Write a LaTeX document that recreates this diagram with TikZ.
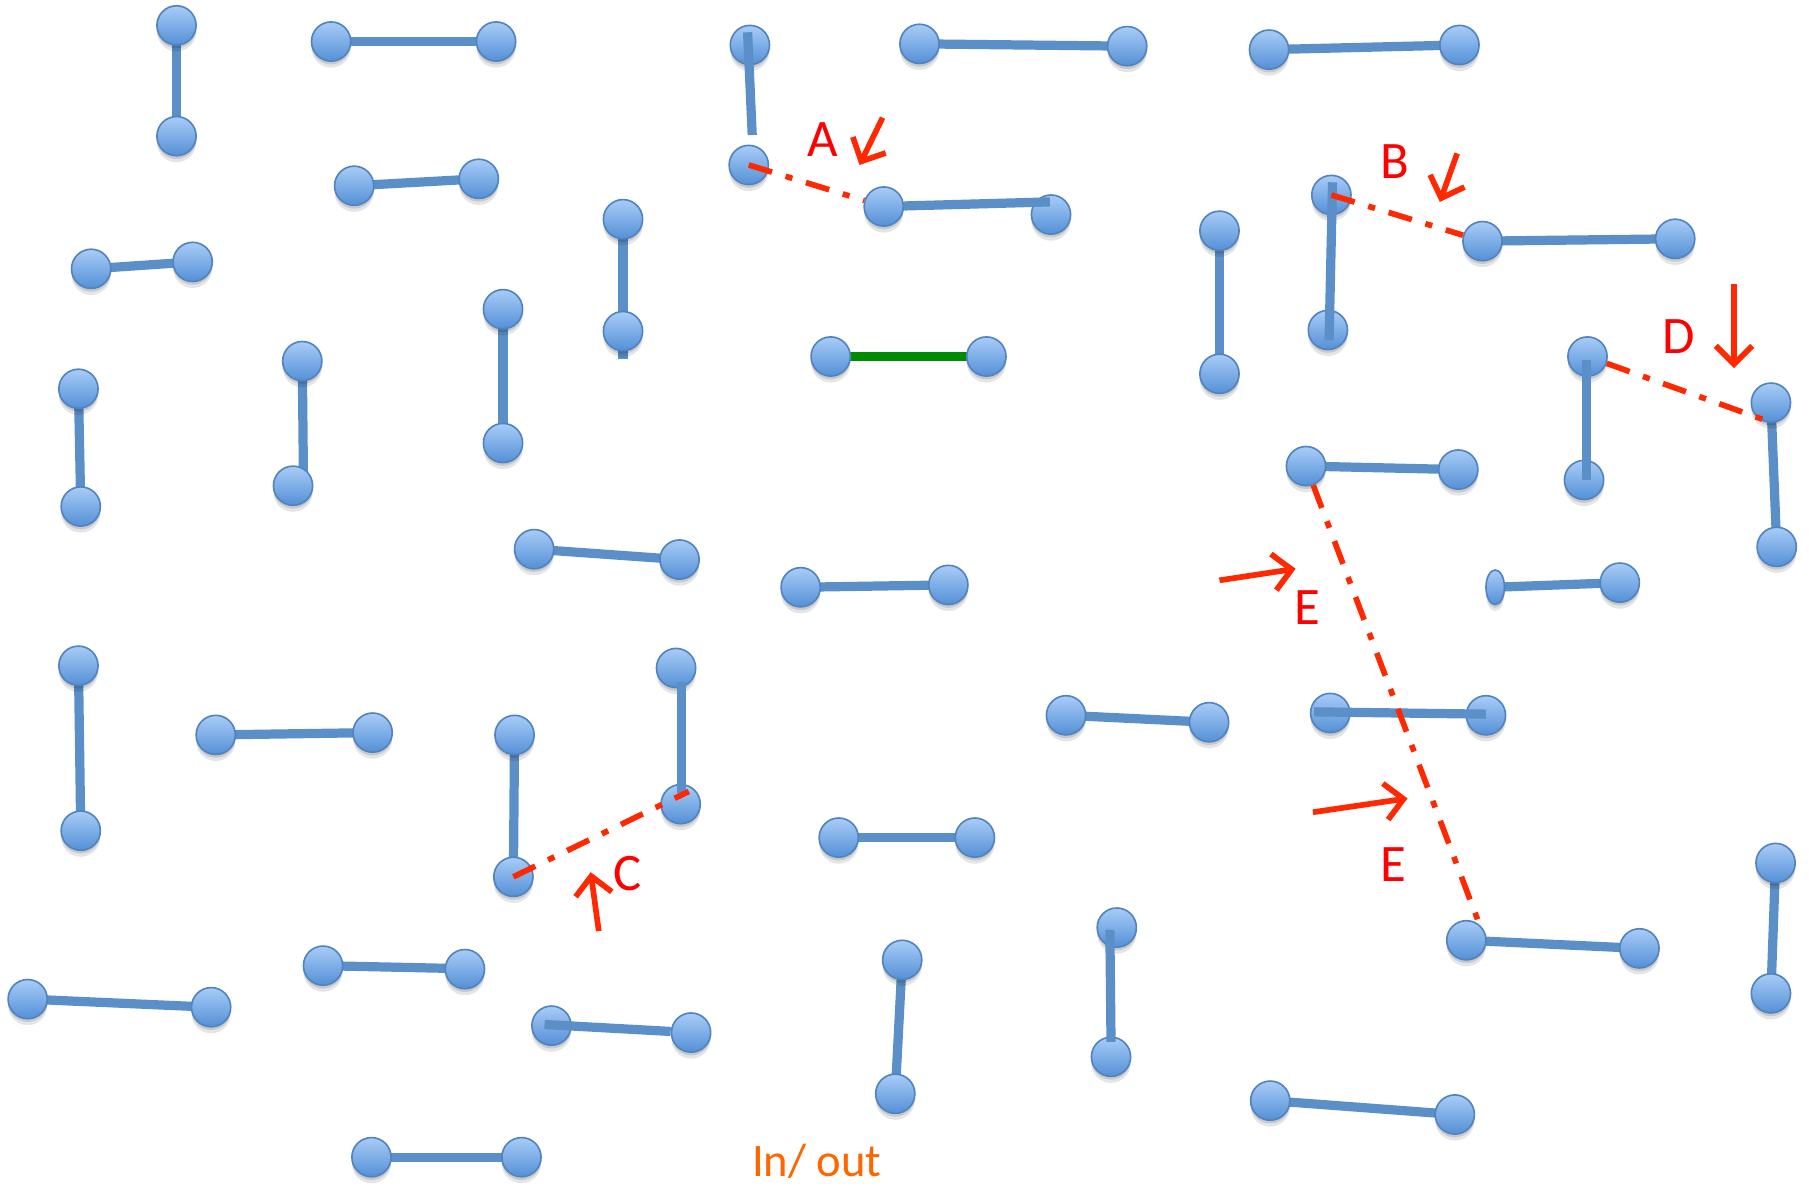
\documentclass[tikz,border=0pt]{standalone}
\usepackage{fontspec}
\setmainfont{Carlito}
\usetikzlibrary{arrows.meta,shapes.geometric}
\definecolor{ballTop}{RGB}{168,204,247}
\definecolor{ballBot}{RGB}{84,144,214}
\definecolor{ballEdge}{RGB}{80,131,192}
\definecolor{bondBlue}{RGB}{91,143,199}
\definecolor{bondGreen}{RGB}{0,140,0}
\definecolor{redLine}{RGB}{255,40,0}
\definecolor{inOut}{RGB}{255,102,0}
\pgfdeclarelayer{bg}
\pgfdeclarelayer{fg}
\pgfsetlayers{bg,main,fg}
\tikzset{
  ball/.style={circle, minimum size=0.68cm, inner sep=0pt, draw=ballEdge, line width=0.8pt,
    top color=ballTop, bottom color=ballBot,
    preaction={draw=none, fill=black, fill opacity=0.10, transform canvas={yshift=-3.2pt}},
    preaction={draw=none, fill=black, fill opacity=0.12, transform canvas={yshift=-1.6pt}}},
  flatball/.style={ball, ellipse, minimum width=0.32cm, minimum height=0.6cm},
  bond/.style={draw=bondBlue, line width=0.16cm},
  greenbond/.style={draw=bondGreen, line width=0.16cm},
  brk/.style={draw=redLine, line width=2.8pt, dash pattern=on 12pt off 7pt on 3.5pt off 7pt},
  pointer/.style={draw=redLine, line width=2.8pt, -{Straight Barb[length=9pt,width=18pt]}},
  lbl/.style={text=red, font=\fontsize{26}{30}\selectfont, inner sep=0pt},
}
\begin{document}
\begin{tikzpicture}[x=0.02cm, y=-0.02cm]
\begin{pgfonlayer}{bg}
\fill[white] (0,0) rectangle (1568,1029);
\end{pgfonlayer}
\useasboundingbox (0,0) rectangle (1568,1029);

% ---- balls ----
\node[ball] (p1a) at (153,22) {};   \node[ball] (p1b) at (153,118) {};
\node[ball] (p2a) at (287,36) {};   \node[ball] (p2b) at (430,36) {};
\node[ball] (p3a) at (650,39) {};
\node[ball] (aL)  at (649,143) {};
\node[ball] (p4a) at (797,38) {};   \node[ball] (p4b) at (977,40) {};
\node[ball] (p5a) at (1100,43) {};  \node[ball] (p5b) at (1265,39) {};
\node[ball] (p6a) at (307,161) {};  \node[ball] (p6b) at (415,155) {};
\node[ball] (p7a) at (79,233) {};   \node[ball] (p7b) at (167,227) {};
\node[ball] (p8a) at (540,190) {};  \node[ball] (p8b) at (540,287) {};
\node[ball] (aM)  at (766,179) {};  \node[ball] (aR) at (911,186) {};
\node[ball] (g1)  at (720,309) {};  \node[ball] (g2) at (855,309) {};
\node[ball] (p11a) at (1057,200) {}; \node[ball] (p11b) at (1057,324) {};
\node[ball] (bT) at (1154,169) {};  \node[ball] (bB) at (1151,286) {};
\node[ball] (bM) at (1285,209) {};  \node[ball] (bR) at (1452,207) {};
\node[ball] (dT) at (1376,309) {};  \node[ball] (dB) at (1373,416) {};
\node[ball] (dR1) at (1535,349) {}; \node[ball] (dR2) at (1540,474) {};
\node[ball] (p14a) at (68,337) {};  \node[ball] (p14b) at (70,439) {};
\node[ball] (p15a) at (262,313) {}; \node[ball] (p15b) at (254,421) {};
\node[ball] (p16a) at (436,268) {}; \node[ball] (p16b) at (436,384) {};
\node[ball] (eT1) at (1132,404) {}; \node[ball] (eT2) at (1264,407) {};
\node[ball] (p18a) at (463,476) {}; \node[ball] (p18b) at (589,485) {};
\node[ball] (p19a) at (694,509) {}; \node[ball] (p19b) at (822,507) {};
\node[flatball] (p20a) at (1296,509) {}; \node[ball] (p20b) at (1404,505) {};
\node[ball] (p21a) at (68,577) {};  \node[ball] (p21b) at (70,720) {};
\node[ball] (p22a) at (187,637) {}; \node[ball] (p22b) at (323,635) {};
\node[ball] (cL1) at (446,637) {};  \node[ball] (cL2) at (445,760) {};
\node[ball] (cR1) at (586,579) {};  \node[ball] (cR2) at (590,697) {};
\node[ball] (p24a) at (924,620) {}; \node[ball] (p24b) at (1048,626) {};
\node[ball] (eM1) at (1153,618) {}; \node[ball] (eM2) at (1288,620) {};
\node[ball] (p26a) at (727,726) {}; \node[ball] (p26b) at (845,726) {};
\node[ball] (p27a) at (1539,748) {}; \node[ball] (p27b) at (1535,861) {};
\node[ball] (p28a) at (24,866) {};  \node[ball] (p28b) at (183,873) {};
\node[ball] (p29a) at (280,837) {}; \node[ball] (p29b) at (403,840) {};
\node[ball] (p30a) at (478,889) {}; \node[ball] (p30b) at (599,895) {};
\node[ball] (p31a) at (782,832) {}; \node[ball] (p31b) at (776,948) {};
\node[ball] (p32a) at (968,804) {}; \node[ball] (p32b) at (963,916) {};
\node[ball] (eB1) at (1271,815) {}; \node[ball] (eB2) at (1421,822) {};
\node[ball] (p34a) at (1101,954) {}; \node[ball] (p34b) at (1261,966) {};
\node[ball] (p35a) at (322,1003) {}; \node[ball] (p35b) at (452,1003) {};

% ---- free line ends ----
\coordinate (p3s) at (648,28);   \coordinate (p3e) at (652,117);
\coordinate (p8e) at (540,311);
\coordinate (aE)  at (910,175);
\coordinate (bS)  at (1155,158); \coordinate (bE) at (1152,295);
\coordinate (dS)  at (1375,312); \coordinate (dE) at (1375,416);
\coordinate (dX)  at (1535,366);
\coordinate (p15e) at (263,412);
\coordinate (eX)  at (1283,803);
\coordinate (cS)  at (591,591);  \coordinate (cE) at (591,687);
\coordinate (cX)  at (597,686);
\coordinate (eMs) at (1139,617); \coordinate (eMe) at (1288,619);
\coordinate (p29e) at (420,840);
\coordinate (p30s) at (472,888);
\coordinate (p32s) at (962,806); \coordinate (p32e) at (963,903);

% ---- bonds under the balls ----
\begin{pgfonlayer}{bg}
\draw[bond] (p1a.center) -- (p1b.center);
\draw[bond] (p2a.center) -- (p2b.center);
\draw[bond] (p4a.center) -- (p4b.center);
\draw[bond] (p5a.center) -- (p5b.center);
\draw[bond] (p6a.center) -- (p6b.center);
\draw[bond] (p7a.center) -- (p7b.center);
\draw[bond] (p8a.center) -- (p8e);
\draw[greenbond] (g1.center) -- (g2.center);
\draw[bond] (p11a.center) -- (p11b.center);
\draw[bond] (bM.center) -- (bR.center);
\draw[bond] (dR1.center) -- (dR2.center);
\draw[bond] (p14a.center) -- (p14b.center);
\draw[bond] (p15a.center) -- (p15e);
\draw[bond] (p16a.center) -- (p16b.center);
\draw[bond] (eT1.center) -- (eT2.center);
\draw[bond] (p18a.center) -- (p18b.center);
\draw[bond] (p19a.center) -- (p19b.center);
\draw[bond] (p20a.center) -- (p20b.center);
\draw[bond] (p21a.center) -- (p21b.center);
\draw[bond] (p22a.center) -- (p22b.center);
\draw[bond] (cL1.center) -- (cL2.center);
\draw[bond] (p24a.center) -- (p24b.center);
\draw[bond] (p26a.center) -- (p26b.center);
\draw[bond] (p27a.center) -- (p27b.center);
\draw[bond] (p28a.center) -- (p28b.center);
\draw[bond] (p29a.center) -- (p29e);
\draw[bond] (p31a.center) -- (p31b.center);
\draw[bond] (eB1.center) -- (eB2.center);
\draw[bond] (p34a.center) -- (p34b.center);
\draw[bond] (p35a.center) -- (p35b.center);
\end{pgfonlayer}

% ---- bonds, breaks and pointers over the balls ----
\begin{pgfonlayer}{fg}
\draw[bond] (p3s) -- (p3e);
\draw[bond] (aM) -- (aE);
\draw[bond] (bS) -- (bE);
\draw[bond] (dS) -- (dE);
\draw[bond] (cS) -- (cE);
\draw[bond] (eMs) -- (eMe);
\draw[bond] (p30s) -- (p30b);
\draw[bond] (p32s) -- (p32e);

\draw[brk] (aL.center) -- (aM);
\draw[brk] (bT.center) -- (bM);
\draw[brk] (dT) -- (dX);
\draw[brk] (cL2.center) -- (cX);
\draw[brk] (eT1) -- (eX);

\coordinate (ra1) at (765,102);  \coordinate (ra2) at (745,143);
\coordinate (rb1) at (1263,133); \coordinate (rb2) at (1248,175);
\coordinate (rd1) at (1503,246); \coordinate (rd2) at (1503,319);
\coordinate (re1) at (1057,503); \coordinate (re2) at (1123,493);
\coordinate (rf1) at (1138,704); \coordinate (rf2) at (1220,692);
\coordinate (rc1) at (519,807);  \coordinate (rc2) at (512,756);
\draw[pointer] (ra1) -- (ra2);
\draw[pointer] (rb1) -- (rb2);
\draw[pointer] (rd1) -- (rd2);
\draw[pointer] (re1) -- (re2);
\draw[pointer] (rf1) -- (rf2);
\draw[pointer] (rc1) -- (rc2);
\end{pgfonlayer}

% ---- labels ----
\node[lbl] (lA) at (713,121) {A};
\node[lbl] (lB) at (1209,140) {B};
\node[lbl] (lD) at (1455,292) {D};
\node[lbl] (lE1) at (1133,527) {E};
\node[lbl] (lE2) at (1208,749) {E};
\node[lbl] (lC) at (544,757) {C};
\node[text=inOut, font=\fontsize{23}{27}\selectfont, inner sep=0pt, anchor=base] (io) at (708,1020) {In/ out};
\end{tikzpicture}
\end{document}
